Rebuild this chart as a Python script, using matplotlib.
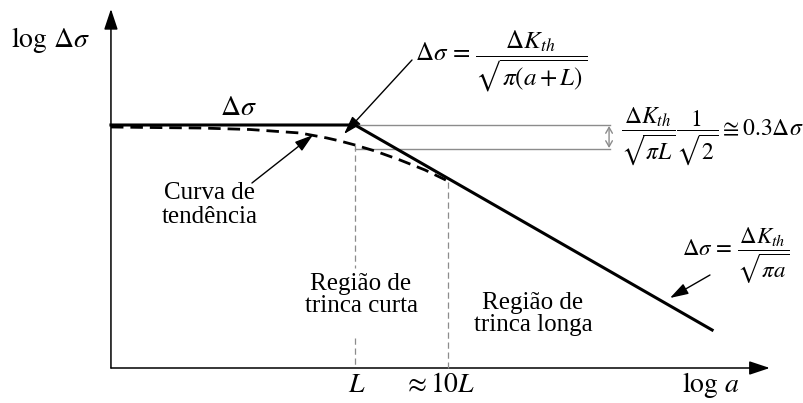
import matplotlib
matplotlib.use('Agg')
import matplotlib.pyplot as plt
from matplotlib.patches import FancyArrowPatch

plt.rcParams['font.family'] = ['Liberation Serif', 'DejaVu Serif']
plt.rcParams['mathtext.fontset'] = 'stix'

# log a measured in decades from L, log stress in arbitrary units (plateau = 0)
solid_x = [-2.624, 0.0, 3.84]
solid_y = [0.0, 0.0, -2.05]

# trend curve (dashed)
trend_x = [-2.624, -2.204, -1.667, -1.129, -0.591, -0.301, -0.161, 0.0, 0.215, 0.484, 0.753, 1.043]
trend_y = [-0.02, -0.025, -0.03, -0.045, -0.08, -0.13, -0.16, -0.20, -0.26, -0.35, -0.45, -0.58]

x_L = 0.0
x_10L = 1.0
y_gap = -0.24          # drop of the trend curve at a = L
x_bracket = 2.742
origin = (-2.624, -2.43)
x_end = 4.46
y_end = 1.16

fs = 18      # plain text
fs_big = 20  # axis labels and symbols

fig = plt.figure(figsize=(8.04, 4.03), dpi=100)
ax = fig.add_axes([0, 0, 1, 1])
ax.set_xlim(-3.817, 4.828)
ax.set_ylim(-2.78, 1.25)
ax.axis('off')

# axes with arrow heads
for tip in [(x_end, origin[1]), (origin[0], y_end)]:
    ax.add_patch(FancyArrowPatch(origin, tip, arrowstyle='-|>,head_length=0.9,head_width=0.3',
                                 mutation_scale=14, lw=1.1, color='black', shrinkA=0, shrinkB=0))

# gray guide lines
ax.plot([x_L, x_bracket], [0, 0], color='#8c8c8c', lw=1)
ax.plot([x_L, x_bracket], [y_gap, y_gap], color='#8c8c8c', lw=1)
ax.add_patch(FancyArrowPatch((x_bracket - 0.01, -0.01), (x_bracket - 0.01, y_gap + 0.01),
                             arrowstyle='<->,head_length=0.35,head_width=0.2', mutation_scale=12,
                             lw=1, color='#8c8c8c', shrinkA=0, shrinkB=0))
ax.plot([x_L, x_L], [-0.20, -1.43], color='#8c8c8c', lw=0.9, ls=(0, (5, 3)))
ax.plot([x_L, x_L], [-2.13, origin[1]], color='#8c8c8c', lw=0.9, ls=(0, (5, 3)))
ax.plot([x_10L, x_10L], [-0.57, origin[1]], color='#8c8c8c', lw=0.9, ls=(0, (5, 3)))

# curves
ax.plot(trend_x, trend_y, color='black', lw=2, ls=(0, (4.5, 2.5)))
ax.plot(solid_x, solid_y, color='black', lw=2.2, solid_joinstyle='miter')

# labels
ax.text(-3.70, 0.78, r'$\log\,\Delta\sigma$', fontsize=fs_big, ha='left', va='baseline')
ax.text(3.516, -2.67, r'$\log\,a$', fontsize=fs_big, ha='left', va='baseline')
ax.text(x_L + 0.02, -2.61, r'$L$', fontsize=fs_big, ha='center', va='center')
ax.text(0.903, -2.61, r'$\approx 10L$', fontsize=fs_big, ha='center', va='center')
ax.text(-1.258, 0.10, r'$\Delta\sigma$', fontsize=fs_big, ha='center', va='baseline')

ax.text(0.645, 0.635, r'$\Delta\sigma\,=\,\dfrac{\Delta K_{th}}{\sqrt{\pi\left(a+L\right)}}$',
        fontsize=18, ha='left', va='center')
ax.text(2.86, -0.11, r'$\dfrac{\Delta K_{th}}{\sqrt{\pi L}}\dfrac{1}{\sqrt{2}}\cong 0.3\Delta\sigma$',
        fontsize=17, ha='left', va='center')
ax.text(3.516, -1.31, r'$\Delta\sigma\,=\,\dfrac{\Delta K_{th}}{\sqrt{\pi a}}$',
        fontsize=16.5, ha='left', va='center')

ax.text(-1.559, -0.80, 'Curva de\ntendência', fontsize=fs, ha='center', va='center', linespacing=1.1)
ax.text(0.065, -1.70, 'Região de\ntrinca curta', fontsize=fs, ha='center', va='center', linespacing=1.05)
ax.text(1.914, -1.89, 'Região de\ntrinca longa', fontsize=fs, ha='center', va='center', linespacing=1.05)

# pointer arrows
arrow_kw = dict(arrowstyle='-|>,head_length=0.8,head_width=0.25', mutation_scale=14,
                lw=1, color='black', shrinkA=0, shrinkB=0)
ax.add_patch(FancyArrowPatch((0.613, 0.65), (-0.118, -0.09), **arrow_kw))
ax.add_patch(FancyArrowPatch((-1.108, -0.58), (-0.452, -0.10), **arrow_kw))
ax.add_patch(FancyArrowPatch((3.817, -1.50), (3.387, -1.73), **arrow_kw))

plt.savefig('out.png', dpi=100)
plt.close()
